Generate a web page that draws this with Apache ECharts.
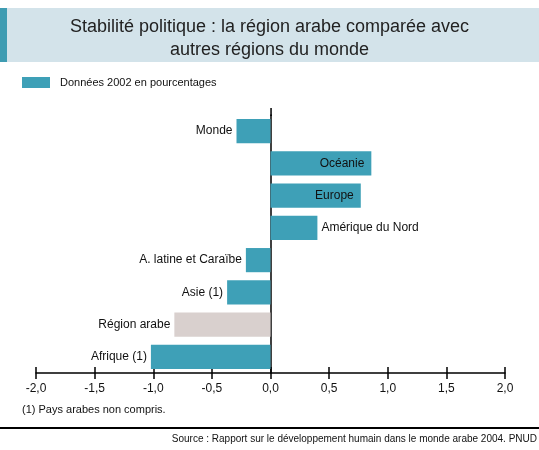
<!DOCTYPE html>
<html>
<head>
<meta charset="utf-8">
<script src="https://cdn.jsdelivr.net/npm/echarts@6/dist/echarts.min.js"></script>
<style>
  html, body { margin: 0; padding: 0; background: #fff; }
  #main { width: 539px; height: 450px; }
</style>
</head>
<body>
<div id="main"></div>
<script>
// data
const regions = ['Monde', 'Océanie', 'Europe', 'Amérique du Nord', 'A. latine et Caraïbe', 'Asie (1)', 'Région arabe', 'Afrique (1)'];
const stabilite = [-0.29, 0.86, 0.77, 0.40, -0.21, -0.37, -0.82, -1.02];
const highlighted = ['Région arabe'];

const teal = '#3ea0b7';
const grey = '#d9d0ce';
const font = '"Liberation Sans", Arial, sans-serif';

const chart = echarts.init(document.getElementById('main'));

const barData = stabilite.map((v, i) => {
    let pos = 'left';
    if (v > 0) pos = v > 0.6 ? 'insideRight' : 'right';
    return {
        value: v,
        itemStyle: { color: highlighted.includes(regions[i]) ? grey : teal },
        label: { position: pos, distance: pos === 'insideRight' ? 7 : 4 }
    };
});

const option = {
    animation: false,
    textStyle: { fontFamily: font },
    title: {
        text: 'Stabilité politique : la région arabe comparée avec\nautres régions du monde',
        left: 'center',
        top: 11,
        textStyle: { fontSize: 18, fontWeight: 'normal', color: '#222', lineHeight: 23, fontFamily: font }
    },
    legend: {
        left: 17,
        top: 72,
        itemWidth: 28,
        itemHeight: 11,
        icon: 'rect',
        textStyle: { fontSize: 11, color: '#111', padding: [0, 0, 0, 5] },
        data: [{ name: 'Données 2002 en pourcentages', itemStyle: { color: teal } }]
    },
    grid: { left: 36, right: 34, top: 115, bottom: 77 },
    xAxis: [
        {
            type: 'value',
            min: -2, max: 2, interval: 0.5,
            position: 'bottom',
            splitLine: { show: false },
            axisLine: { show: true, lineStyle: { color: '#000', width: 1.5 } },
            axisTick: { show: true, length: 6, lineStyle: { color: '#000', width: 1.5 } },
            axisLabel: {
                margin: 10,
                fontSize: 12,
                color: '#111',
                formatter: v => v.toFixed(1).replace('.', ',')
            }
        },
        {
            type: 'value',
            min: -2, max: 2, interval: 0.5,
            position: 'bottom',
            splitLine: { show: false },
            axisLine: { show: false },
            axisTick: { show: true, inside: true, length: 6, lineStyle: { color: '#000', width: 1.5 } },
            axisLabel: { show: false }
        }
    ],
    yAxis: {
        type: 'category',
        data: regions,
        inverse: true,
        axisLine: { show: true, onZero: true, lineStyle: { color: '#000', width: 1.5 } },
        axisTick: { show: false },
        axisLabel: { show: false },
        splitLine: { show: false }
    },
    series: [{
        name: 'Données 2002 en pourcentages',
        type: 'bar',
        xAxisIndex: 0,
        barCategoryGap: '25%',
        data: barData,
        itemStyle: { color: teal },
        label: {
            show: true,
            formatter: '{b}',
            fontSize: 12,
            color: '#111'
        }
    }],
    graphic: [
        { type: 'rect', z: -10, shape: { x: 0, y: 8, width: 539, height: 54 }, style: { fill: '#d3e3ea' } },
        { type: 'rect', z: -9, shape: { x: 0, y: 8, width: 7, height: 54 }, style: { fill: '#3e9cb2' } },
        { type: 'rect', shape: { x: 270.3, y: 108, width: 1.5, height: 8 }, style: { fill: '#000' } },
        { type: 'text', left: 22, top: 404, style: { text: '(1) Pays arabes non compris.', font: '11px ' + font, fill: '#111' } },
        { type: 'rect', shape: { x: 0, y: 427, width: 539, height: 2 }, style: { fill: '#000' } },
        { type: 'text', right: 2, top: 434, style: { text: 'Source : Rapport sur le développement humain dans le monde arabe 2004. PNUD', font: '10px ' + font, fill: '#111' } }
    ]
};

chart.setOption(option);
</script>
</body>
</html>
